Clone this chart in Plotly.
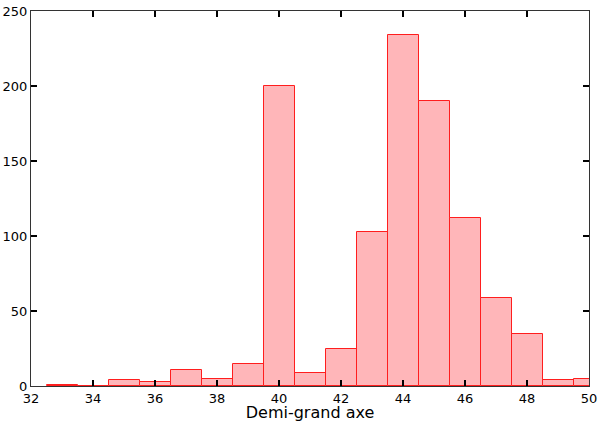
import plotly.graph_objects as go

bin_centers = [33, 34, 35, 36, 37, 38, 39, 40, 41, 42, 43, 44, 45, 46, 47, 48, 49, 50]
counts = [1, 0, 4, 3, 11, 5, 15, 200, 9, 25, 103, 234, 190, 112, 59, 35, 4, 5]
x_ticks = [32, 34, 36, 38, 40, 42, 44, 46, 48, 50]
y_ticks = [0, 50, 100, 150, 200, 250]

fig = go.Figure(go.Bar(
    x=bin_centers, y=counts, width=1,
    marker=dict(color="rgb(255,182,185)", line=dict(color="rgb(255,30,30)", width=1)),
))

axis_common = dict(
    showgrid=False, zeroline=False, showline=True, linecolor="#333333", linewidth=1,
    mirror="ticks", ticks="inside", ticklen=6, tickwidth=2, tickcolor="black",
    tickfont=dict(family="DejaVu Sans", size=13, color="black"), automargin=False,
)

fig.update_layout(
    width=600, height=422,
    margin=dict(l=31, r=11, t=11, b=36),
    plot_bgcolor="white", paper_bgcolor="white",
    showlegend=False, bargap=0,
    xaxis=dict(range=[32, 50], tickvals=x_ticks, ticktext=[str(v) for v in x_ticks],
               title=dict(text="Demi-grand axe", font=dict(family="DejaVu Sans", size=16, color="black"), standoff=0),
               **axis_common),
    yaxis=dict(range=[0, 250], tickvals=y_ticks, ticktext=[str(v) for v in y_ticks], **axis_common),
)

fig.write_html("out.html", config={"displayModeBar": False},
               post_script="document.body.style.margin='0';document.body.style.overflow='hidden';")
